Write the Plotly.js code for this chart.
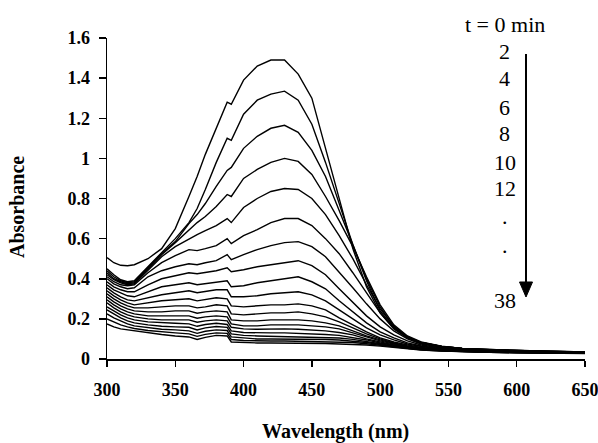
<!DOCTYPE html>
<html>
<head>
<meta charset="utf-8">
<script src="https://cdn.plot.ly/plotly-3.0.1.min.js"></script>
<style>html,body{margin:0;padding:0;background:#fff;}#chart{width:598px;height:443px;}</style>
</head>
<body>
<div id="chart"></div>
<script>
// Wavelength sample points (nm)
const wavelength = [300,305,310,315,320,330,340,350,360,366,372,380,388,391,400,410,420,430,440,450,460,470,480,490,500,510,520,530,545,560,580,600,625,650];
// Reaction time of each spectrum (min)
const timesMin = [0,2,4,6,8,10,12,14,16,18,20,22,24,26,28,30,32,34,36,38];

// Absorbance spectra, one array per time point
const abs_t0  = [.505,.48,.467,.465,.47,.50,.55,.65,.81,.91,1.02,1.15,1.28,1.27,1.39,1.46,1.49,1.49,1.42,1.30,1.05,.80,.55,.36,.23,.15,.105,.08,.062,.052,.046,.042,.038,.035];
const abs_t2  = [.45,.42,.395,.385,.39,.46,.53,.60,.68,.75,.845,.98,1.10,1.09,1.22,1.29,1.32,1.335,1.29,1.17,.98,.77,.57,.39,.24,.155,.11,.082,.063,.053,.046,.042,.038,.035];
const abs_t4  = [.44,.41,.39,.38,.385,.455,.525,.585,.675,.72,.775,.86,.94,.955,1.05,1.11,1.15,1.165,1.13,1.04,.91,.74,.57,.40,.26,.16,.11,.083,.063,.053,.046,.042,.038,.035];
const abs_t6  = [.43,.40,.385,.375,.38,.45,.52,.58,.64,.68,.71,.76,.82,.81,.90,.945,.98,1.0,.985,.92,.81,.69,.56,.41,.27,.17,.115,.085,.064,.053,.046,.042,.038,.035];
const abs_t8  = [.42,.395,.38,.37,.375,.44,.51,.56,.60,.62,.64,.665,.70,.68,.755,.80,.835,.85,.845,.80,.72,.615,.50,.37,.25,.165,.11,.082,.062,.052,.045,.041,.037,.034];
const abs_t10 = [.41,.385,.37,.365,.37,.43,.48,.515,.545,.54,.55,.565,.60,.575,.615,.645,.68,.70,.70,.665,.60,.525,.43,.33,.23,.155,.105,.08,.06,.05,.044,.04,.036,.033];
const abs_t12 = [.40,.375,.36,.35,.355,.41,.44,.46,.475,.47,.48,.49,.52,.495,.52,.545,.565,.58,.585,.56,.51,.435,.355,.275,.20,.14,.10,.075,.058,.049,.043,.039,.035,.032];
const abs_t14 = [.385,.36,.345,.335,.335,.37,.40,.415,.43,.425,.43,.44,.455,.435,.445,.46,.47,.48,.49,.465,.42,.35,.28,.215,.16,.12,.09,.07,.055,.047,.042,.038,.035,.032];
const abs_t16 = [.37,.345,.33,.315,.31,.335,.36,.37,.38,.37,.375,.385,.39,.36,.365,.38,.39,.40,.41,.385,.35,.29,.235,.18,.135,.105,.08,.065,.052,.045,.04,.037,.034,.031];
const abs_t18 = [.355,.33,.31,.295,.29,.305,.32,.33,.34,.33,.335,.345,.345,.31,.31,.315,.325,.33,.335,.32,.29,.245,.20,.155,.12,.095,.075,.062,.05,.044,.04,.036,.033,.03];
const abs_t20 = [.34,.315,.295,.28,.27,.28,.29,.295,.30,.29,.295,.305,.30,.265,.26,.265,.27,.27,.275,.265,.245,.205,.17,.135,.105,.085,.07,.058,.048,.042,.038,.035,.032,.03];
const abs_t22 = [.325,.30,.28,.265,.255,.255,.26,.265,.265,.255,.26,.27,.265,.225,.22,.225,.23,.23,.235,.225,.21,.185,.155,.125,.10,.08,.065,.055,.047,.041,.037,.034,.032,.03];
const abs_t24 = [.31,.285,.265,.25,.24,.235,.235,.24,.24,.228,.235,.24,.235,.195,.19,.19,.195,.195,.195,.19,.18,.165,.14,.115,.095,.077,.063,.053,.046,.04,.036,.034,.032,.03];
const abs_t26 = [.295,.27,.25,.235,.225,.215,.215,.215,.215,.203,.21,.215,.21,.175,.165,.165,.17,.17,.17,.165,.16,.15,.13,.108,.09,.074,.061,.052,.045,.04,.036,.033,.031,.03];
const abs_t28 = [.28,.255,.235,.22,.21,.20,.195,.195,.195,.183,.19,.195,.19,.158,.15,.148,.15,.15,.148,.145,.14,.132,.12,.10,.085,.07,.059,.05,.044,.039,.035,.033,.031,.029];
const abs_t30 = [.26,.24,.22,.205,.195,.185,.18,.178,.175,.163,.172,.178,.172,.14,.132,.13,.13,.13,.128,.125,.122,.118,.108,.095,.08,.067,.057,.049,.043,.038,.035,.032,.03,.029];
const abs_t32 = [.245,.225,.205,.19,.18,.17,.163,.16,.158,.145,.155,.162,.158,.125,.118,.115,.113,.113,.112,.11,.108,.105,.098,.088,.076,.064,.055,.048,.042,.038,.034,.032,.03,.029];
const abs_t34 = [.225,.205,.19,.175,.165,.155,.148,.145,.14,.128,.138,.145,.142,.11,.104,.10,.10,.10,.10,.098,.097,.095,.09,.082,.072,.062,.053,.047,.041,.037,.034,.032,.03,.028];
const abs_t36 = [.20,.185,.17,.16,.152,.142,.135,.13,.125,.113,.123,.13,.128,.097,.092,.09,.09,.09,.089,.088,.087,.085,.082,.076,.068,.06,.052,.046,.04,.037,.034,.031,.03,.028];
const abs_t38 = [.175,.16,.15,.145,.14,.13,.122,.115,.11,.097,.108,.118,.115,.085,.082,.08,.08,.08,.079,.078,.077,.075,.073,.07,.064,.057,.05,.045,.04,.036,.033,.031,.029,.027];

const spectra = [abs_t0,abs_t2,abs_t4,abs_t6,abs_t8,abs_t10,abs_t12,abs_t14,abs_t16,abs_t18,abs_t20,abs_t22,abs_t24,abs_t26,abs_t28,abs_t30,abs_t32,abs_t34,abs_t36,abs_t38];

// Legend-like labels at the right
const timeLabels = ['t = 0 min','2','4','6','8','10','12','.','.','38'];

const serif = '"Liberation Serif", "Times New Roman", serif';

const traces = spectra.map((ys, i) => ({
  x: wavelength, y: ys, type: 'scatter', mode: 'lines',
  name: 't = ' + timesMin[i] + ' min',
  line: {color: '#000', width: 1.4},
  showlegend: false
}));

// label vertical positions (paper coords)
const labelY = [1.0436, 0.9573, 0.8723, 0.7850, 0.7040, 0.6137, 0.5296, 0.4424, 0.3551, 0.1838];

const annotations = timeLabels.map((t, i) => ({
  xref: 'paper', yref: 'paper', x: 0.8326, y: labelY[i],
  text: t, showarrow: false, xanchor: 'center', yanchor: 'middle',
  font: {family: serif, size: 22, color: '#000'}
}));
annotations.push({
  xref: 'paper', yref: 'paper', x: 0.477, y: -0.2265, text: '<b>Wavelength (nm)</b>',
  showarrow: false, xanchor: 'center', yanchor: 'middle',
  font: {family: serif, size: 20, color: '#000'}
});
annotations.push({
  xref: 'paper', yref: 'paper', x: -0.1883, y: 0.4735, text: '<b>Absorbance</b>',
  showarrow: false, xanchor: 'center', yanchor: 'middle', textangle: -90,
  font: {family: serif, size: 20, color: '#000'}
});

const shapes = [
  {type: 'line', xref: 'paper', yref: 'paper', x0: 0.8766, x1: 0.8766, y0: 0.9502, y1: 0.2368,
   line: {color: '#000', width: 2}},
  {type: 'path', xref: 'paper', yref: 'paper',
   path: 'M 0.8630 0.2399 L 0.8902 0.2399 L 0.8766 0.1931 Z',
   fillcolor: '#000', line: {color: '#000', width: 1}}
];

const layout = {
  width: 598, height: 443,
  margin: {l: 107, r: 13, t: 38, b: 84},
  paper_bgcolor: '#fff', plot_bgcolor: '#fff',
  font: {family: serif, color: '#000'},
  xaxis: {
    range: [300, 650], dtick: 50, tick0: 300,
    showgrid: false, zeroline: false, showline: true, linecolor: '#000', linewidth: 1.5,
    ticks: 'outside', ticklen: 6, tickwidth: 1.5, tickcolor: '#000',
    tickfont: {family: serif, size: 18, color: '#000', weight: 'bold'},
    ticklabelstandoff: 8, ticklabeloverflow: 'allow'
  },
  yaxis: {
    range: [0, 1.6], dtick: 0.2, tick0: 0,
    showgrid: false, zeroline: false, showline: true, linecolor: '#000', linewidth: 1.5,
    ticks: 'outside', ticklen: 7, tickwidth: 1.5, tickcolor: '#000',
    tickfont: {family: serif, size: 18, color: '#000', weight: 'bold'},
    ticklabelstandoff: 5
  },
  annotations: annotations,
  shapes: shapes,
  hovermode: false
};

Plotly.newPlot('chart', traces, layout, {staticPlot: true, displayModeBar: false});
</script>
</body>
</html>
